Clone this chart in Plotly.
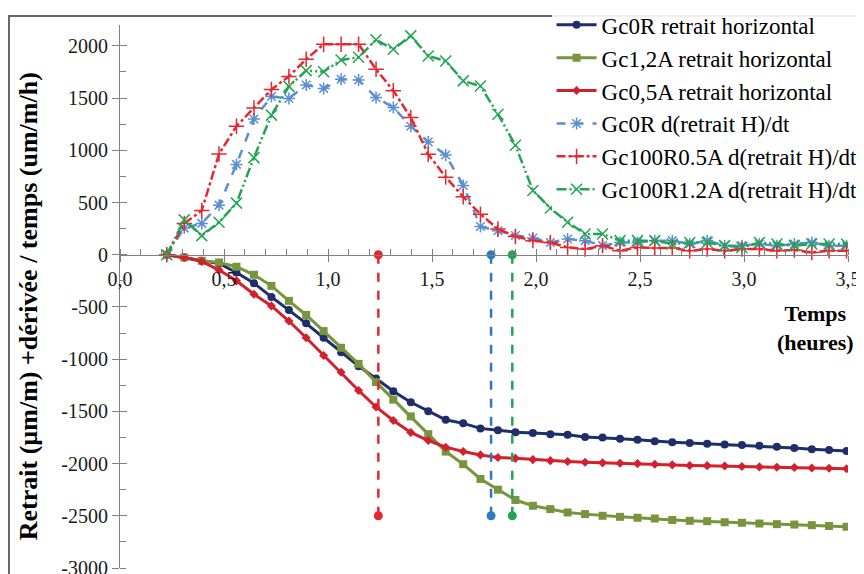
import plotly.graph_objects as go

# temps (heures) - one reading about every 5 minutes
temps = [0.225, 0.309, 0.393, 0.476, 0.560, 0.644, 0.728, 0.812, 0.895, 0.979,
         1.063, 1.147, 1.231, 1.314, 1.398, 1.482, 1.566, 1.650, 1.733, 1.817,
         1.901, 1.985, 2.069, 2.152, 2.236, 2.320, 2.404, 2.488, 2.571, 2.655,
         2.739, 2.823, 2.907, 2.990, 3.074, 3.158, 3.242, 3.326, 3.409, 3.493]

# retrait horizontal (um/m)
gc0r = [0, -26, -58, -84, -170, -272, -404, -529, -657, -795,
        -933, -1067, -1186, -1308, -1413, -1500, -1580, -1615, -1663, -1680,
        -1700, -1708, -1718, -1724, -1745, -1750, -1762, -1772, -1785, -1795,
        -1803, -1810, -1818, -1822, -1830, -1840, -1850, -1862, -1870, -1880]
gc12a = [0, -26, -58, -74, -115, -192, -298, -442, -577, -731,
         -891, -1045, -1220, -1388, -1548, -1718, -1885, -2006, -2147, -2250,
         -2349, -2404, -2436, -2468, -2484, -2500, -2510, -2519, -2526, -2540,
         -2548, -2552, -2562, -2567, -2574, -2580, -2584, -2590, -2598, -2605]
gc05a = [0, -26, -64, -147, -250, -378, -490, -635, -795, -965,
         -1125, -1300, -1458, -1587, -1702, -1779, -1843, -1885, -1917, -1942,
         -1950, -1962, -1972, -1980, -1987, -1993, -1997, -2000, -2006, -2012,
         -2018, -2020, -2023, -2028, -2032, -2035, -2038, -2042, -2045, -2050]

# derivee du retrait (um/m/h)
d_gc0r = [0, 255, 300, 475, 865, 1300, 1515, 1497, 1625, 1593,
          1680, 1673, 1506, 1410, 1231, 1080, 955, 663, 270, 230,
          185, 160, 118, 150, 135, 87, 118, 118, 135, 135,
          103, 135, 87, 87, 103, 87, 103, 118, 87, 87]
d_gc05a = [0, 300, 423, 965, 1231, 1405, 1583, 1708, 1872, 2016,
           2016, 2016, 1776, 1571, 1314, 962, 743, 555, 388, 247,
           175, 135, 118, 70, 54, 87, 38, 70, 64, 64,
           38, 54, 38, 54, 54, 38, 45, 22, 38, 38]
d_gc12a = [0, 334, 183, 311, 494, 930, 1337, 1612, 1763, 1753,
           1865, 1891, 2058, 1968, 2096, 1904, 1855, 1665, 1615, 1346,
           1048, 615, 447, 311, 199, 199, 135, 135, 135, 103,
           118, 118, 87, 70, 118, 103, 87, 103, 103, 103]

# temps marques par les lignes verticales
t_marks = [1.242, 1.784, 1.886]
mark_colors = ["#E8262E", "#2E78C0", "#22A553"]

x_ticks = [0, 0.5, 1.0, 1.5, 2.0, 2.5, 3.0, 3.5]
x_labels = ["0,0", "0,5", "1,0", "1,5", "2,0", "2,5", "3,0", "3,5"]
y_ticks = [-3000, -2500, -2000, -1500, -1000, -500, 0, 500, 1000, 1500, 2000]
y_labels = [str(v) for v in y_ticks]

Y_MIN, Y_MAX = -3000, 2200
FONT = "Liberation Serif, Times New Roman, Tinos, DejaVu Serif, serif"

fig = go.Figure()

fig.add_trace(go.Scatter(x=temps, y=gc0r, name="Gc0R retrait horizontal",
                         mode="lines+markers",
                         line=dict(color="#1F2D6B", width=3),
                         marker=dict(symbol="circle", size=8)))
fig.add_trace(go.Scatter(x=temps, y=gc12a, name="Gc1,2A retrait horizontal",
                         mode="lines+markers",
                         line=dict(color="#77953D", width=3),
                         marker=dict(symbol="square", size=8)))
fig.add_trace(go.Scatter(x=temps, y=gc05a, name="Gc0,5A retrait horizontal",
                         mode="lines+markers",
                         line=dict(color="#D4202C", width=3),
                         marker=dict(symbol="diamond", size=7)))
fig.add_trace(go.Scatter(x=temps, y=d_gc0r, name="Gc0R d(retrait H)/dt",
                         mode="lines+markers",
                         line=dict(color="#5B8FD2", width=2.5, dash="dash"),
                         marker=dict(symbol="asterisk-open", size=10,
                                     line=dict(color="#5B8FD2", width=1.5))))
fig.add_trace(go.Scatter(x=temps, y=d_gc05a, name="Gc100R0.5A d(retrait H)/dt",
                         mode="lines+markers",
                         line=dict(color="#E8262E", width=2.5, dash="dashdot"),
                         marker=dict(symbol="cross-thin-open", size=11,
                                     line=dict(color="#E8262E", width=1.5))))
fig.add_trace(go.Scatter(x=temps, y=d_gc12a, name="Gc100R1.2A d(retrait H)/dt",
                         mode="lines+markers",
                         line=dict(color="#22A553", width=2.5,
                                   dash="10px,3px,2px,3px,2px,3px"),
                         marker=dict(symbol="x-thin-open", size=11,
                                     line=dict(color="#22A553", width=1.5))))

# lignes verticales pointillees avec un point a chaque bout
for t, c in zip(t_marks, mark_colors):
    fig.add_trace(go.Scatter(x=[t, t], y=[0, -2500], mode="lines+markers",
                             line=dict(color=c, width=2.5, dash="dash"),
                             marker=dict(symbol="circle", size=9, color=c),
                             showlegend=False, hoverinfo="skip"))

# trace vide pour les axes de graduations "croisees"
fig.add_trace(go.Scatter(x=[None], y=[None], xaxis="x2", yaxis="y2",
                         showlegend=False, hoverinfo="skip"))

x_pos = (0 - Y_MIN) / (Y_MAX - Y_MIN)
tick_font = dict(family=FONT, size=20, color="#1a1a1a")

# la page html a une marge de 8 px: la figure commence a (8, 8)
fig.update_layout(
    width=856, height=574,
    margin=dict(l=112, r=16, t=17, b=14, autoexpand=False),
    paper_bgcolor="white", plot_bgcolor="white",
    font=dict(family=FONT, color="black"),
    showlegend=True,
    legend=dict(x=1.02, xanchor="right", y=1.04, yanchor="top",
                font=dict(family=FONT, size=23, color="black"),
                bgcolor="rgba(255,255,255,0.9)", tracegroupgap=0,
                itemwidth=40),
    xaxis=dict(range=[0, 3.5], anchor="free", position=x_pos,
               automargin=False,
               showline=True, linecolor="#808080", linewidth=1,
               tickvals=x_ticks, ticktext=x_labels, tickfont=tick_font,
               ticks="outside", ticklen=6, tickcolor="#808080",
               ticklabeloverflow="allow",
               minor=dict(dtick=0.1, ticks="inside", ticklen=6,
                          tickcolor="#808080"),
               showgrid=False, zeroline=False),
    xaxis2=dict(range=[0, 3.5], overlaying="x", anchor="free", position=x_pos,
                automargin=False,
                showline=False, tickvals=x_ticks, showticklabels=False,
                ticks="inside", ticklen=6, tickcolor="#808080",
                showgrid=False, zeroline=False),
    yaxis=dict(range=[Y_MIN, Y_MAX], showline=True, linecolor="#808080",
               automargin=False,
               linewidth=1, tickvals=y_ticks, ticktext=y_labels,
               tickfont=tick_font, ticks="outside", ticklen=7,
               tickcolor="#808080", ticklabeloverflow="allow",
               minor=dict(dtick=250, ticks="inside", ticklen=6,
                          tickcolor="#808080"),
               showgrid=False, zeroline=False),
    yaxis2=dict(range=[Y_MIN, Y_MAX], overlaying="y", side="left",
                automargin=False,
                showline=False, tickvals=y_ticks, showticklabels=False,
                ticks="inside", ticklen=7, tickcolor="#808080",
                showgrid=False, zeroline=False),
)

# titres d'axes
fig.add_annotation(text="<b>Retrait (µm/m) +dérivée / temps (um/m/h)</b>",
                   xref="paper", yref="paper", x=-0.1264, y=0.482,
                   xanchor="center", yanchor="middle",
                   textangle=-90, showarrow=False,
                   font=dict(family=FONT, size=26, color="black"))
fig.add_annotation(text="<b>Temps<br>(heures)</b>",
                   xref="paper", yref="paper", x=0.956, y=0.442,
                   xanchor="center", yanchor="middle",
                   showarrow=False, align="center",
                   font=dict(family=FONT, size=22, color="black"))

# cadre du graphique (seuls le haut et la gauche sont dans la fenetre)
fig.add_shape(type="rect", xref="paper", yref="paper", layer="above",
              x0=-0.1525, x1=1.2, y0=-0.2, y1=1.0166,
              line=dict(color="#666666", width=2),
              fillcolor="rgba(0,0,0,0)")

fig.write_html("out.html")
